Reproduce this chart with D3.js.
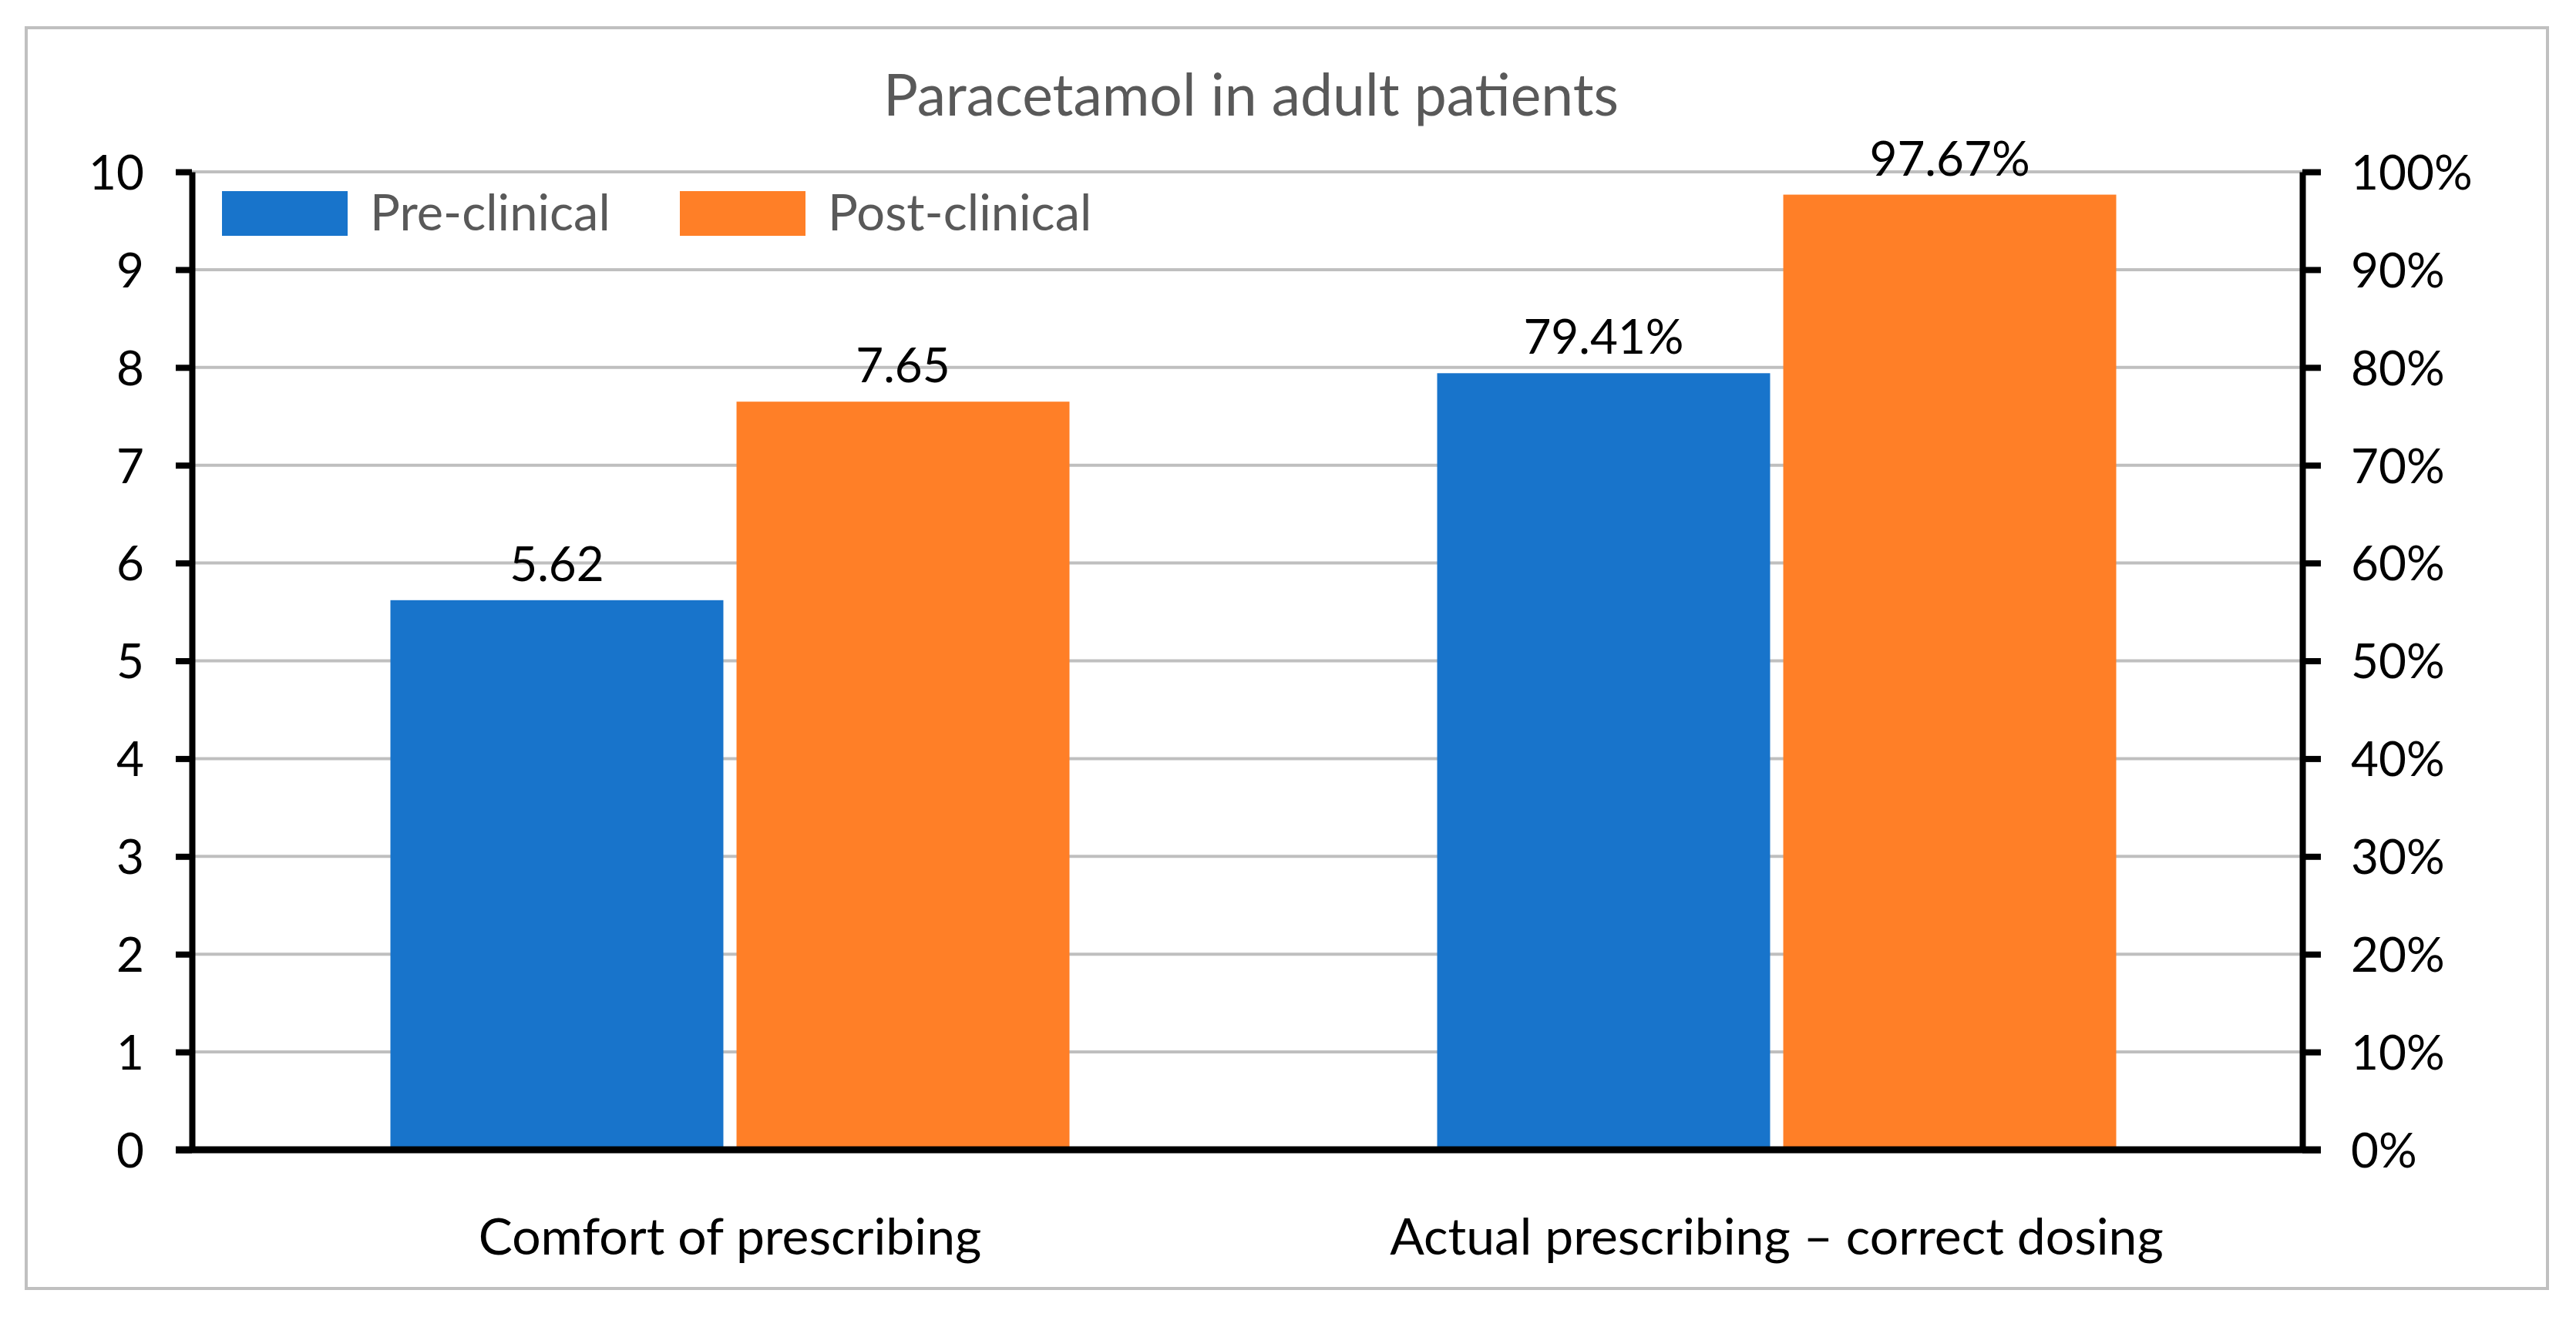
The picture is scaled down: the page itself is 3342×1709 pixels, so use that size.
<!DOCTYPE html>
<html><head><meta charset="utf-8">
<script src="https://cdn.jsdelivr.net/npm/d3@7"></script>
<style>
body{margin:0;background:#fff;}
svg{display:block;}
text{font-family:Lato,"Open Sans",sans-serif;}
</style>
</head><body>
<svg id="c" width="3342" height="1709"></svg>
<script>
// ---------- data ----------
const chartTitle = "Paracetamol in adult patients";
const categories = ["Comfort of prescribing", "Actual prescribing \u2013 correct dosing"];
const seriesNames = ["Pre-clinical", "Post-clinical"];
const preClinical = [5.62, 0.7941];   // category 1 on left axis (score), category 2 on right axis (%)
const postClinical = [7.65, 0.9767];
const categoryAxis = ["left", "right"];
const leftTicks = [0,1,2,3,4,5,6,7,8,9,10];
const rightTicks = [0,0.1,0.2,0.3,0.4,0.5,0.6,0.7,0.8,0.9,1];
const colors = ["#1874CB", "#FF7F27"];

// ---------- layout ----------
const svg = d3.select("#c");
const plotLeft = 249, plotRight = 2987, plotTop = 223, plotBottom = 1492;

svg.append("rect").attr("x",34).attr("y",36).attr("width",3271).attr("height",1636)
  .attr("fill","#fff").attr("stroke","#c0c0c0").attr("stroke-width",4);

const yL = d3.scaleLinear().domain([0,10]).range([plotBottom, plotTop]);
const yR = d3.scaleLinear().domain([0,1]).range([plotBottom, plotTop]);
const x0 = d3.scaleBand().domain(categories).range([268, 2984]);
const groupW = 881;
const x1 = d3.scaleBand().domain(seriesNames).range([0, groupW]).paddingInner(0.038);
const groupOffset = (x0.bandwidth() - groupW) / 2;

// gridlines
svg.append("g").selectAll("line").data(leftTicks.slice(1)).join("line")
  .attr("x1", plotLeft).attr("x2", plotRight)
  .attr("y1", d => yL(d)).attr("y2", d => yL(d))
  .attr("stroke", "#bfbfbf").attr("stroke-width", 4);

// bars
const rows = categories.map((c,i) => ({cat:c, axis:categoryAxis[i], vals:[preClinical[i], postClinical[i]]}));
const fmtL = d3.format(".2f"), fmtR = d3.format(".2%");
const g = svg.append("g");
rows.forEach(r => {
  const ys = r.axis === "left" ? yL : yR;
  const fmt = r.axis === "left" ? fmtL : fmtR;
  r.vals.forEach((v, j) => {
    const bx = x0(r.cat) + groupOffset + x1(seriesNames[j]);
    g.append("rect").attr("x", bx).attr("y", ys(v))
      .attr("width", x1.bandwidth()).attr("height", plotBottom - ys(v))
      .attr("fill", colors[j]);
    g.append("text").attr("x", bx + x1.bandwidth()/2).attr("y", ys(v) - 25)
      .attr("text-anchor","middle").attr("font-size",62).attr("fill","#000")
      .text(fmt(v));
  });
});

// left axis
const axL = svg.append("g").attr("transform",`translate(${plotLeft},0)`)
  .call(d3.axisLeft(yL).tickValues(leftTicks).tickFormat(d3.format("d")).tickSize(21).tickSizeOuter(0).tickPadding(41));
// right axis
const axR = svg.append("g").attr("transform",`translate(${plotRight},0)`)
  .call(d3.axisRight(yR).tickValues(rightTicks).tickFormat(d3.format(".0%")).tickSize(24).tickSizeOuter(0).tickPadding(39));
[axL, axR].forEach(ax => {
  ax.select(".domain").attr("stroke","#000").attr("stroke-width",8);
  ax.selectAll(".tick line").attr("stroke","#000").attr("stroke-width",8);
  ax.selectAll(".tick text").attr("font-size",62).attr("font-family","Lato").attr("fill","#000").attr("dy","0.36em");
});

// x baseline
svg.append("line").attr("x1",228).attr("x2",3011).attr("y1",plotBottom).attr("y2",plotBottom)
  .attr("stroke","#000").attr("stroke-width",9);

// category axis labels
const axB = svg.append("g").attr("transform",`translate(0,${plotBottom})`)
  .call(d3.axisBottom(x0).tickSize(0).tickSizeOuter(0).tickPadding(0));
axB.select(".domain").remove();
axB.selectAll(".tick text").attr("font-size",66).attr("font-family","Lato").attr("fill","#000")
  .attr("y",136).attr("dy",0);

// title
svg.append("text").attr("x",1623).attr("y",150).attr("text-anchor","middle")
  .attr("font-size",75).attr("fill","#595959").text(chartTitle);

// legend
const legendX = [288, 882];
seriesNames.forEach((s,j) => {
  svg.append("rect").attr("x",legendX[j]).attr("y",248).attr("width",163).attr("height",58).attr("fill",colors[j]);
  svg.append("text").attr("x",legendX[j]+192).attr("y",299).attr("font-size",65)
    .attr("fill","#595959").text(s);
});
</script>
</body></html>
